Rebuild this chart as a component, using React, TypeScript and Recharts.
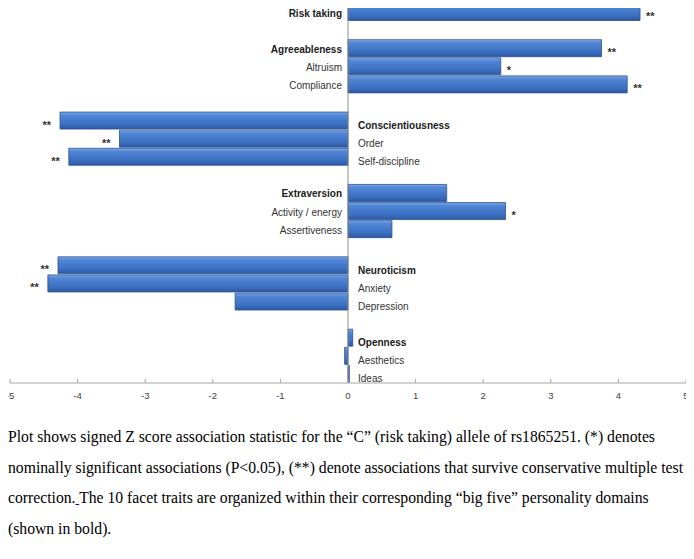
import React from 'react'
import { BarChart, Bar, XAxis, YAxis, LabelList, ReferenceLine } from 'recharts'

// rows top to bottom; '' rows are the blank spacers between domains
const traits = [
  'Risk taking', '',
  'Agreeableness', 'Altruism', 'Compliance', '',
  'Conscientiousness', 'Order', 'Self-discipline', '',
  'Extraversion', 'Activity / energy', 'Assertiveness', '',
  'Neuroticism', 'Anxiety', 'Depression', '',
  'Openness', 'Aesthetics', 'Ideas',
]
const zScores = [
  4.32, null,
  3.75, 2.26, 4.13, null,
  -4.26, -3.38, -4.13, null,
  1.46, 2.33, 0.65, null,
  -4.29, -4.44, -1.67, null,
  0.07, -0.05, 0.02,
]
const stars = [
  '**', '',
  '**', '*', '**', '',
  '**', '**', '**', '',
  '', '*', '', '',
  '**', '**', '', '',
  '', '', '',
]
const domains = ['Risk taking', 'Agreeableness', 'Conscientiousness', 'Extraversion', 'Neuroticism', 'Openness']
// domain groups whose labels sit to the right of the zero line
const rightLabelled = [
  'Conscientiousness', 'Order', 'Self-discipline',
  'Neuroticism', 'Anxiety', 'Depression',
  'Openness', 'Aesthetics', 'Ideas',
]
const xTicks = [-5, -4, -3, -2, -1, 0, 1, 2, 3, 4, 5]

const data = traits.map((trait, i) => ({ id: i, trait, z: zScores[i] }))

const labelFont = '"Liberation Sans", Arial, sans-serif'

function RowLabel(props: any) {
  const vb = props.viewBox || props
  const x = vb.x ?? props.x
  const y = vb.y ?? props.y
  const w = vb.width ?? props.width
  const h = vb.height ?? props.height
  const i = props.value
  const z = zScores[i]
  if (z == null || x == null) return null
  const lo = Math.min(x, x + w)
  const hi = Math.max(x, x + w)
  const zero = z >= 0 ? lo : hi
  const end = z >= 0 ? hi : lo
  const cy = y + h / 2
  const name = traits[i]
  const right = rightLabelled.includes(name)
  const bold = domains.includes(name)
  const s = stars[i]
  return (
    <g>
      <text
        x={right ? zero + 10 : zero - 6}
        y={cy}
        dy={right ? 5 : 1}
        textAnchor={right ? 'start' : 'end'}
        dominantBaseline="central"
        fontFamily={labelFont}
        fontSize={10}
        fontWeight={bold ? 700 : 400}
        fill={bold ? '#1a1a1a' : '#333'}
      >
        {name}
      </text>
      {s && (
        <text
          x={z >= 0 ? end + 6 : end - 9}
          y={cy}
          dy={4}
          textAnchor={z >= 0 ? 'start' : 'end'}
          dominantBaseline="central"
          fontFamily={labelFont}
          fontSize={11}
          fontWeight={700}
          fill="#333"
        >
          {s}
        </text>
      )}
    </g>
  )
}

function AxisTick(props: any) {
  const { x, y, payload } = props
  const axisY = y - 12
  return (
    <g>
      <line x1={x} x2={x} y1={axisY - 4} y2={axisY} stroke="#a6a6a6" />
      <text x={x} y={y} textAnchor="middle" dominantBaseline="central" fontFamily={labelFont} fontSize={9.5} fill="#404040">
        {payload.value}
      </text>
    </g>
  )
}

export default function App() {
  return (
    <div style={{ margin: '-8px 0 0 -8px', background: '#fff' }}>
      <BarChart
        width={690}
        height={420}
        data={data}
        layout="vertical"
        margin={{ top: 3, right: 4, bottom: 7, left: 10 }}
        barCategoryGap={0.5}
      >
        <defs>
          <linearGradient id="barFill" x1="0" y1="0" x2="0" y2="1">
            <stop offset="0%" stopColor="#80aaea" />
            <stop offset="18%" stopColor="#5187d6" />
            <stop offset="70%" stopColor="#3c70c2" />
            <stop offset="100%" stopColor="#2c5aa3" />
          </linearGradient>
        </defs>
        <XAxis
          type="number"
          domain={[-5, 5]}
          ticks={xTicks}
          interval={0}
          tickLine={false}
          tickSize={0}
          tickMargin={12}
          tick={<AxisTick />}
          axisLine={{ stroke: '#a6a6a6' }}
          height={30}
        />
        <YAxis type="category" dataKey="id" hide />
        <ReferenceLine x={0} stroke="#8c8c8c" />
        <Bar dataKey="z" fill="url(#barFill)" stroke="#2f528f" strokeWidth={0.8} isAnimationActive={false}>
          <LabelList dataKey="id" content={<RowLabel />} />
        </Bar>
      </BarChart>
      <div
        style={{
          marginTop: 2,
          marginLeft: 8,
          fontFamily: '"Liberation Serif", "Times New Roman", serif',
          fontSize: 15.7,
          lineHeight: '30.7px',
          whiteSpace: 'nowrap',
          color: '#000',
        }}
      >
        Plot shows signed Z score association statistic for the “C” (risk taking) allele of rs1865251. (*) denotes
        <br />
        nominally significant associations (P&lt;0.05), (**) denote associations that survive conservative multiple test
        <br />
        correction.<span style={{ color: '#0000ee', textDecoration: 'underline' }}> </span>The 10 facet traits are organized within their corresponding “big five” personality domains
        <br />
        (shown in bold).
      </div>
    </div>
  )
}
